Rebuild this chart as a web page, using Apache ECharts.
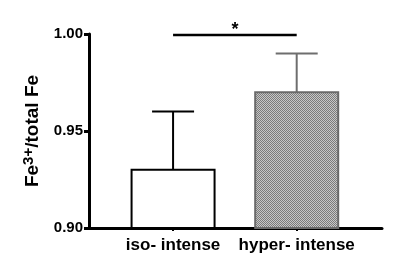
<!DOCTYPE html>
<html><head><meta charset="utf-8">
<script src="https://cdn.jsdelivr.net/npm/echarts@6/dist/echarts.min.js"></script>
<style>html,body{margin:0;padding:0;background:#fff}#c{width:400px;height:271px}</style>
</head><body><div id="c"></div>
<script>
const categories = ['iso- intense', 'hyper- intense'];
const means = [0.930, 0.970];
const errors = [0.030, 0.020];
const yTicks = [0.90, 0.95, 1.00];
const sigLevel = 1.00;
const sigLabel = '*';

const pat = document.createElement('canvas');
pat.width = 2; pat.height = 2;
const pc = pat.getContext('2d');
pc.fillStyle = '#c8c8c8'; pc.fillRect(0,0,2,2);
pc.fillStyle = '#7c7c7c'; pc.fillRect(0,0,1,1); pc.fillRect(1,1,1,1);

const styles = [
  {fill: '#ffffff', stroke: '#000000', err: '#000000'},
  {fill: {image: pat, repeat: 'repeat'}, stroke: '#6a6a6a', err: '#6e6e6e'}
];

const chart = echarts.init(document.getElementById('c'), null, {renderer: 'canvas'});
const font = 'Liberation Sans, Arial, sans-serif';
chart.setOption({
  animation: false,
  grid: {left: 89, right: 18, top: 34, bottom: 43},
  xAxis: {
    type: 'value', min: -0.68, max: 1.69,
    splitLine: {show: false},
    axisLine: {onZero: false, lineStyle: {color: '#000', width: 3}},
    axisTick: {customValues: [0, 1], length: 3, lineStyle: {color: '#000', width: 2}},
    axisLabel: {customValues: [0, 1], formatter: v => categories[Math.round(v)] || '',
      color: '#000', fontWeight: 'bold', fontSize: 17, fontFamily: font, margin: 9}
  },
  yAxis: {
    type: 'value', min: 0.9, max: 1.0, interval: 0.05,
    splitLine: {show: false},
    axisLine: {show: true, onZero: false, lineStyle: {color: '#000', width: 3}},
    axisTick: {length: 5, lineStyle: {color: '#000', width: 3}},
    axisLabel: {formatter: v => v.toFixed(2), color: '#000', fontWeight: 'bold', fontSize: 15, fontFamily: font, margin: 6},
    name: '{a|Fe}{s|3+}{a|/total Fe}',
    nameLocation: 'middle', nameGap: 45, nameRotate: 90,
    nameTextStyle: {rich: {
      a: {fontWeight: 'bold', fontSize: 19, fontFamily: font, color: '#000'},
      s: {fontWeight: 'bold', fontSize: 15, fontFamily: font, color: '#000', verticalAlign: 'top', padding: [0,0,8,0]}
    }}
  },
  series: [{
    type: 'custom',
    data: categories.map((c, i) => [i, means[i], errors[i]]),
    clip: false,
    renderItem: (params, api) => {
      const i = api.value(0), m = api.value(1), e = api.value(2);
      const st = styles[i];
      const top = api.coord([i, m]);
      const base = api.coord([i, 0.9]);
      const hw = 41.5;
      const errTop = api.coord([i, m + e]);
      return {type: 'group', children: [
        {type: 'line', shape: {x1: top[0], y1: top[1], x2: errTop[0], y2: errTop[1]}, style: {stroke: st.err, lineWidth: 2}},
        {type: 'line', shape: {x1: top[0]-21, y1: errTop[1], x2: top[0]+21, y2: errTop[1]}, style: {stroke: st.err, lineWidth: 2}},
        {type: 'rect', shape: {x: top[0]-hw, y: top[1], width: hw*2, height: base[1]-top[1]}, style: {fill: st.fill, stroke: st.stroke, lineWidth: 2}}
      ]};
    }
  }, {
    type: 'custom',
    data: [[0, 1, sigLevel]],
    clip: false,
    renderItem: (params, api) => {
      const a = api.coord([api.value(0), api.value(2)]);
      const b = api.coord([api.value(1), api.value(2)]);
      return {type: 'group', children: [
        {type: 'line', shape: {x1: a[0], y1: a[1]+1, x2: b[0], y2: b[1]+1}, style: {stroke: '#000', lineWidth: 2.5}},
        {type: 'text', x: (a[0]+b[0])/2, y: a[1]-13, style: {text: sigLabel, fill: '#000', font: 'bold 18px ' + font, align: 'center', verticalAlign: 'top'}}
      ]};
    }
  }]
});
</script></body></html>
